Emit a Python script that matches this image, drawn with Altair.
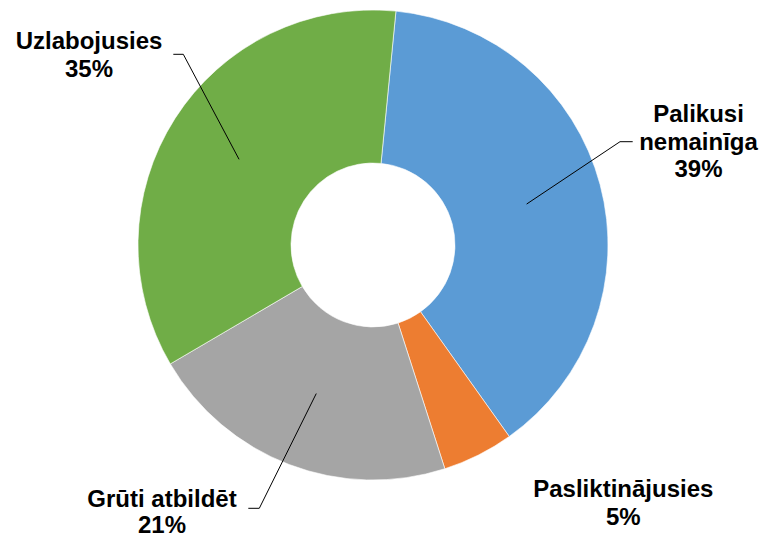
import math
import altair as alt
import pandas as pd

# ---- data ----
categories = ["Palikusi nemainīga", "Pasliktinājusies", "Grūti atbildēt", "Uzlabojusies"]
shares = [38.6, 4.9, 21.5, 35.0]
pct_labels = ["39%", "5%", "21%", "35%"]
name_lines = [["Palikusi", "nemainīga"], ["Pasliktinājusies"], ["Grūti atbildēt"], ["Uzlabojusies"]]
colors = ["#5B9BD5", "#ED7D31", "#A5A5A5", "#70AD47"]

# ---- layout (pixels, chart coordinates) ----
W, H = 751, 530
CX, CY = 365, 237
R_OUT, R_IN = 235, 82
START = math.radians(5.6)
R_LEADER = 159
FONT = 24
label_pos = [(690.5, 114.3), (615.3, 489.3), (154, 498.5), (81, 41.3)]
line_heights = [27.5, 27.5, 26.5, 28]
# leader elbows/ends per category (None = no leader)
leader_pts = [[(612, 133.7), (624.7, 133.7)], None,
              [(251.3, 500.3), (240.3, 500.3)], [(175.3, 46.3), (165.3, 46.3)]]

total = sum(shares)
df = pd.DataFrame({
    "category": categories,
    "share": shares,
    "idx": list(range(len(categories))),
})

arc = alt.Chart(df).mark_arc(
    radius=R_OUT, radius2=R_IN, stroke="white", strokeWidth=0.6
).encode(
    theta=alt.Theta("share:Q", stack=True,
                    scale=alt.Scale(range=[START, START + 2 * math.pi])),
    color=alt.Color("category:N", scale=alt.Scale(domain=categories, range=colors), legend=None),
    order=alt.Order("idx:Q"),
    x=alt.value(CX),
    y=alt.value(CY),
)

# labels (one text mark per label so each keeps its own line spacing)
label_layers = []
for i, cat in enumerate(categories):
    one = pd.DataFrame([{
        "text": "\n".join(name_lines[i] + [pct_labels[i]]),
        "lx": label_pos[i][0],
        "ly": label_pos[i][1],
    }])
    label_layers.append(alt.Chart(one).mark_text(
        font="Liberation Sans", fontWeight="bold", fontSize=FONT, color="black",
        align="center", baseline="alphabetic", lineBreak="\n", lineHeight=line_heights[i],
    ).encode(
        x=alt.X("lx:Q", scale=None),
        y=alt.Y("ly:Q", scale=None),
        text="text:N",
    ))

# leader lines: start at slice mid-angle, computed from the data
rows = []
cum = 0.0
for i, s in enumerate(shares):
    mid = START + 2 * math.pi * (cum + s / 2) / total
    cum += s
    if leader_pts[i] is None:
        continue
    px = CX + R_LEADER * math.sin(mid)
    py = CY - R_LEADER * math.cos(mid)
    pts = [(px, py)] + leader_pts[i]
    for k, (x, y) in enumerate(pts):
        rows.append({"cat": categories[i], "k": k, "lx": x, "ly": y})
lead_df = pd.DataFrame(rows)
leaders = alt.Chart(lead_df).mark_line(color="black", strokeWidth=1).encode(
    x=alt.X("lx:Q", scale=None),
    y=alt.Y("ly:Q", scale=None),
    detail="cat:N",
    order="k:Q",
)

chart = alt.layer(arc, leaders, *label_layers).properties(
    width=W, height=H, autosize=alt.AutoSizeParams(type="none"), padding=0,
).configure_view(stroke=None)

chart.save("out.html", embed_options={"renderer": "svg", "actions": False})
